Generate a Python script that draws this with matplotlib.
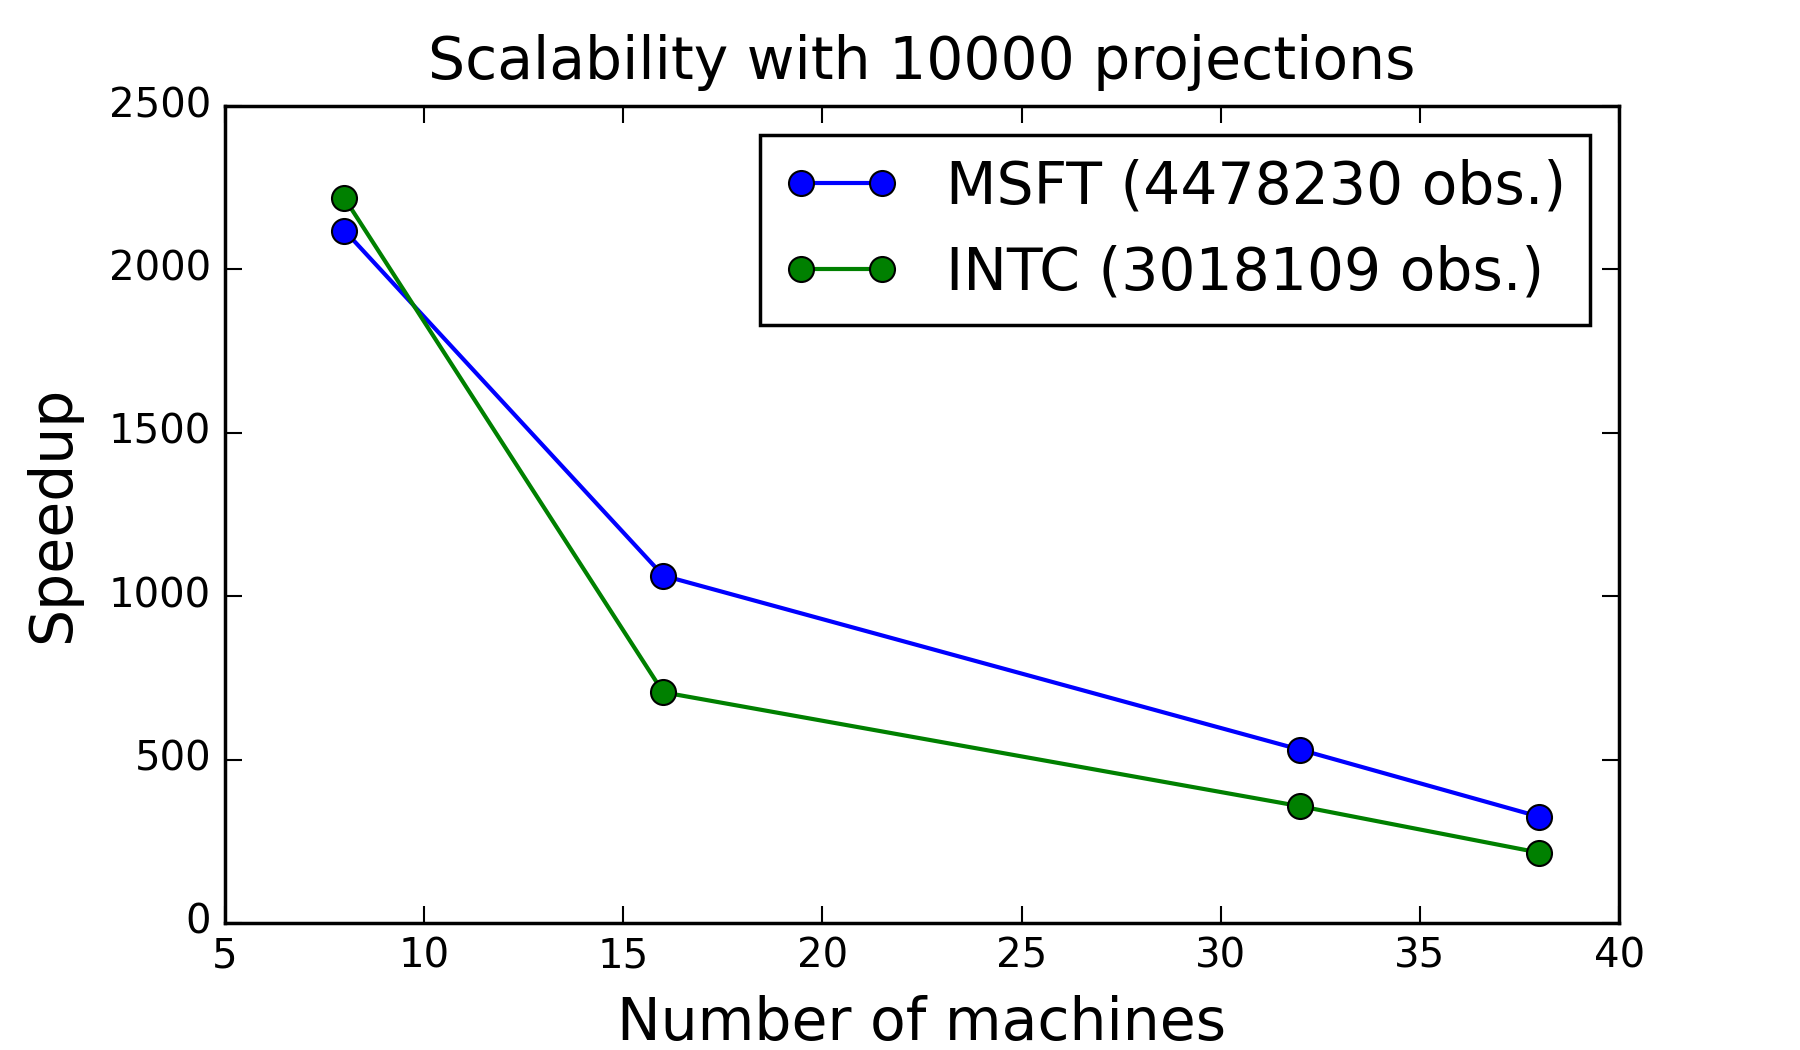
import matplotlib
matplotlib.use('Agg')
import matplotlib.pyplot as plt

plt.style.use('classic')

machines = [8, 16, 32, 38]
msft_speedup = [2119, 1063, 530, 325]
intc_speedup = [2218, 706, 357, 215]

fig = plt.figure(figsize=(18, 10.5), dpi=100)
ax = fig.add_axes([0.125, 0.121, 0.7745, 0.778])

ax.plot(machines, msft_speedup, 'bo-', lw=3, ms=18, mew=1.5, label='MSFT (4478230 obs.)')
ax.plot(machines, intc_speedup, 'go-', lw=3, ms=18, mew=1.5, label='INTC (3018109 obs.)')

ax.set_xlim(5, 40)
ax.set_ylim(0, 2500)
ax.set_title('Scalability with 10000 projections', fontsize=42, y=1.025)
ax.set_xlabel('Number of machines', fontsize=42, labelpad=13)
ax.set_ylabel('Speedup', fontsize=42, labelpad=20)
ax.tick_params(labelsize=29, length=12, width=1.5, pad=10)
for s in ax.spines.values():
    s.set_linewidth(2.5)

leg = ax.legend(loc='upper right', fontsize=42, numpoints=2, borderaxespad=0.5)
leg.get_frame().set_linewidth(2.5)

fig.savefig('out.png', dpi=100)
